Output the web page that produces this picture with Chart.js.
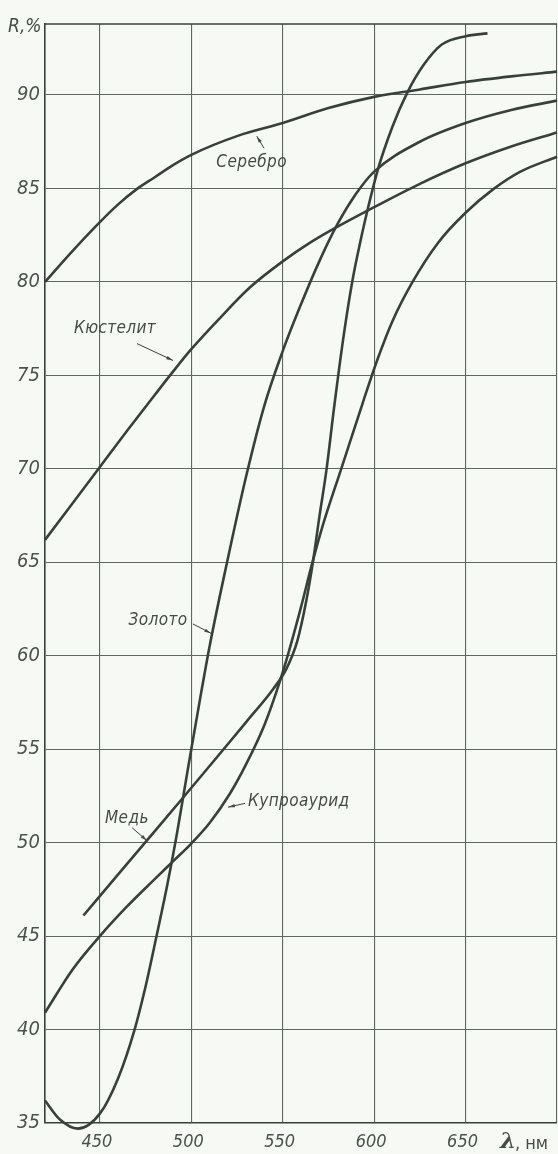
<!DOCTYPE html>
<html>
<head>
<meta charset="utf-8">
<script src="https://cdn.jsdelivr.net/npm/chart.js@4.4.1/dist/chart.umd.min.js"></script>
<style>
  html, body { margin: 0; padding: 0; background: #f7f9f4; }
  canvas { display: block; }
</style>
</head>
<body>
<canvas id="chart" width="558" height="1154" style="width:558px;height:1154px"></canvas>
<script>
// axis ticks
const wavelengthTicks = [450, 500, 550, 600, 650, 700]
const reflectTicks = [35, 40, 45, 50, 55, 60, 65, 70, 75, 80, 85, 90]

// curves (wavelength nm / reflectance %)
const silverNm = [420, 435, 450, 460, 470, 480, 490, 500, 525, 550, 575, 600, 625, 650, 675, 700]
const silverR = [80.0, 81.65, 83.2, 84.15, 84.95, 85.6, 86.25, 86.8, 87.8, 88.5, 89.3, 89.9, 90.3, 90.7, 91.0, 91.25]

const kustelitNm = [420, 435, 450, 465, 480, 490, 500, 515, 532, 550, 565, 578, 600, 625, 650, 675, 700]
const kustelitR = [66.2, 68.15, 70.1, 72.05, 73.95, 75.2, 76.4, 78.0, 79.7, 81.1, 82.1, 82.85, 84.0, 85.25, 86.35, 87.25, 88.0]

const goldNm = [420, 428, 438, 450, 460, 469, 475, 481, 487, 492, 496, 500, 505, 510, 520, 530, 540, 550, 560, 570, 580, 590, 600, 625, 650, 675, 700]
const goldR = [36.2, 35.2, 34.7, 35.5, 37.4, 40.0, 42.3, 45.0, 47.8, 50.4, 52.7, 55.0, 57.8, 60.5, 65.2, 69.6, 73.4, 76.3, 78.8, 81.1, 83.1, 84.7, 85.9, 87.5, 88.5, 89.2, 89.7]

const copperNm = [441, 460, 476, 495, 510, 530, 545, 552, 558, 563, 566.5, 570, 574, 578, 583, 588, 593, 597, 602, 610, 618, 627, 637, 650, 662]
const copperR = [46.1, 48.3, 50.15, 52.35, 54.1, 56.45, 58.25, 59.3, 60.8, 63.0, 65.0, 67.4, 70.0, 73.2, 76.9, 80.0, 82.4, 84.1, 86.0, 88.3, 90.1, 91.6, 92.7, 93.15, 93.3]

const cuproNm = [420, 435, 450, 465, 480, 490, 500, 510, 521, 530, 540, 547, 553, 560, 566, 572, 582, 594, 602, 610, 621, 635, 650, 665, 680, 700]
const cuproR = [40.9, 43.2, 45.0, 46.6, 48.05, 49.0, 49.95, 51.05, 52.6, 54.2, 56.3, 58.2, 60.1, 62.6, 64.9, 67.0, 70.0, 73.6, 75.9, 77.9, 80.0, 82.1, 83.7, 84.95, 85.9, 86.7]

const ink = '#37413b'
const gridInk = '#5e6862'
const numFont = "'Liberation Sans Narrow', 'DejaVu Sans Condensed', sans-serif"
const noteFont = "'DejaVu Sans Condensed', 'DejaVu Sans', sans-serif"

function toPoints(xs, ys) {
    return xs.map((x, i) => ({ x: x, y: ys[i] }))
}

function curve(label, xs, ys) {
    return {
        label: label,
        data: toPoints(xs, ys),
        showLine: true,
        borderColor: ink,
        borderWidth: 2.6,
        pointRadius: 0,
        cubicInterpolationMode: 'monotone',
        clip: false
    }
}

// curve labels with little arrows, in data units
const notes = [
    { text: 'Серебро', at: [533.0, 86.4], from: [539.8, 87.15], to: [535.8, 87.8], align: 'center' },
    { text: 'Кюстелит', at: [458.3, 77.5], from: [470.3, 76.7], to: [490.0, 75.8], align: 'center' },
    { text: 'Золото', at: [481.8, 61.9], from: [500.9, 61.7], to: [510.8, 61.2], align: 'center' },
    { text: 'Медь', at: [464.8, 51.3], from: [467.6, 50.8], to: [475.8, 50.1], align: 'center' },
    { text: 'Купроаурид', at: [531.0, 52.2], from: [529.4, 52.1], to: [520.1, 51.9], align: 'left' }
]

const notesPlugin = {
    id: 'notes',
    beforeDatasetsDraw(chart) {
        const a = chart.chartArea
        const c = chart.ctx
        c.save()
        c.strokeStyle = ink
        c.lineWidth = 1.6
        c.beginPath()
        c.moveTo(a.left, a.top)
        c.lineTo(a.right, a.top)
        c.stroke()
        c.restore()
    },
    afterDatasetsDraw(chart) {
        const c = chart.ctx
        const xs = chart.scales.x
        const ys = chart.scales.y
        c.save()
        c.fillStyle = '#444c47'
        c.strokeStyle = ink
        c.font = 'italic 17px ' + noteFont
        c.textBaseline = 'middle'
        if ('letterSpacing' in c) c.letterSpacing = '0.4px'
        notes.forEach(n => {
            c.textAlign = n.align
            c.fillText(n.text, xs.getPixelForValue(n.at[0]), ys.getPixelForValue(n.at[1]))
            const x1 = xs.getPixelForValue(n.from[0]), y1 = ys.getPixelForValue(n.from[1])
            const x2 = xs.getPixelForValue(n.to[0]), y2 = ys.getPixelForValue(n.to[1])
            c.lineWidth = 1
            c.beginPath()
            c.moveTo(x1, y1)
            c.lineTo(x2, y2)
            c.stroke()
            const ang = Math.atan2(y2 - y1, x2 - x1)
            c.beginPath()
            c.moveTo(x2, y2)
            c.lineTo(x2 - 7 * Math.cos(ang - 0.25), y2 - 7 * Math.sin(ang - 0.25))
            c.lineTo(x2 - 7 * Math.cos(ang + 0.25), y2 - 7 * Math.sin(ang + 0.25))
            c.closePath()
            c.fill()
        })
        if ('letterSpacing' in c) c.letterSpacing = '0px'
        // axis titles
        c.textAlign = 'left'
        c.font = 'italic 19px ' + numFont
        c.fillText('R,%', 8, 27)
        c.font = 'italic bold 23px "DejaVu Serif", serif'
        c.fillText('λ', 500, 1142)
        c.font = '18px "DejaVu Sans Condensed", sans-serif'
        c.fillText(', нм', 515, 1144)
        c.restore()
    }
}

new Chart(document.getElementById('chart'), {
    type: 'scatter',
    data: {
        datasets: [
            curve('Серебро', silverNm, silverR),
            curve('Кюстелит', kustelitNm, kustelitR),
            curve('Золото', goldNm, goldR),
            curve('Медь', copperNm, copperR),
            curve('Купроаурид', cuproNm, cuproR)
        ]
    },
    options: {
        responsive: false,
        devicePixelRatio: 1,
        animation: false,
        layout: { padding: { top: 24, right: 1, left: 0, bottom: 0 } },
        plugins: { legend: { display: false }, tooltip: { enabled: false } },
        scales: {
            x: {
                type: 'linear',
                min: 420,
                max: 700,
                afterBuildTicks: s => { s.ticks = wavelengthTicks.map(v => ({ value: v })) },
                afterFit: s => { s.height = 31; s.paddingLeft = 0; s.paddingRight = 0 },
                grid: { color: gridInk, lineWidth: 1.1, drawTicks: false },
                border: { display: true, color: ink, width: 1.6 },
                ticks: {
                    color: '#4a524c',
                    font: { family: numFont, size: 18, style: 'italic' },
                    padding: 9,
                    labelOffset: -3,
                    maxRotation: 0,
                    autoSkip: false,
                    callback: v => v === 700 ? '' : v
                }
            },
            y: {
                type: 'linear',
                min: 35,
                max: 93.8,
                afterBuildTicks: s => { s.ticks = reflectTicks.map(v => ({ value: v })) },
                afterFit: s => { s.width = 45; s.paddingTop = 0; s.paddingBottom = 0 },
                grid: { color: gridInk, lineWidth: 1.1, drawTicks: false },
                border: { display: true, color: ink, width: 1.6 },
                ticks: {
                    color: '#4a524c',
                    font: { family: numFont, size: 20, style: 'italic' },
                    padding: 5,
                    autoSkip: false
                }
            }
        }
    },
    plugins: [notesPlugin]
})
</script>
</body>
</html>
